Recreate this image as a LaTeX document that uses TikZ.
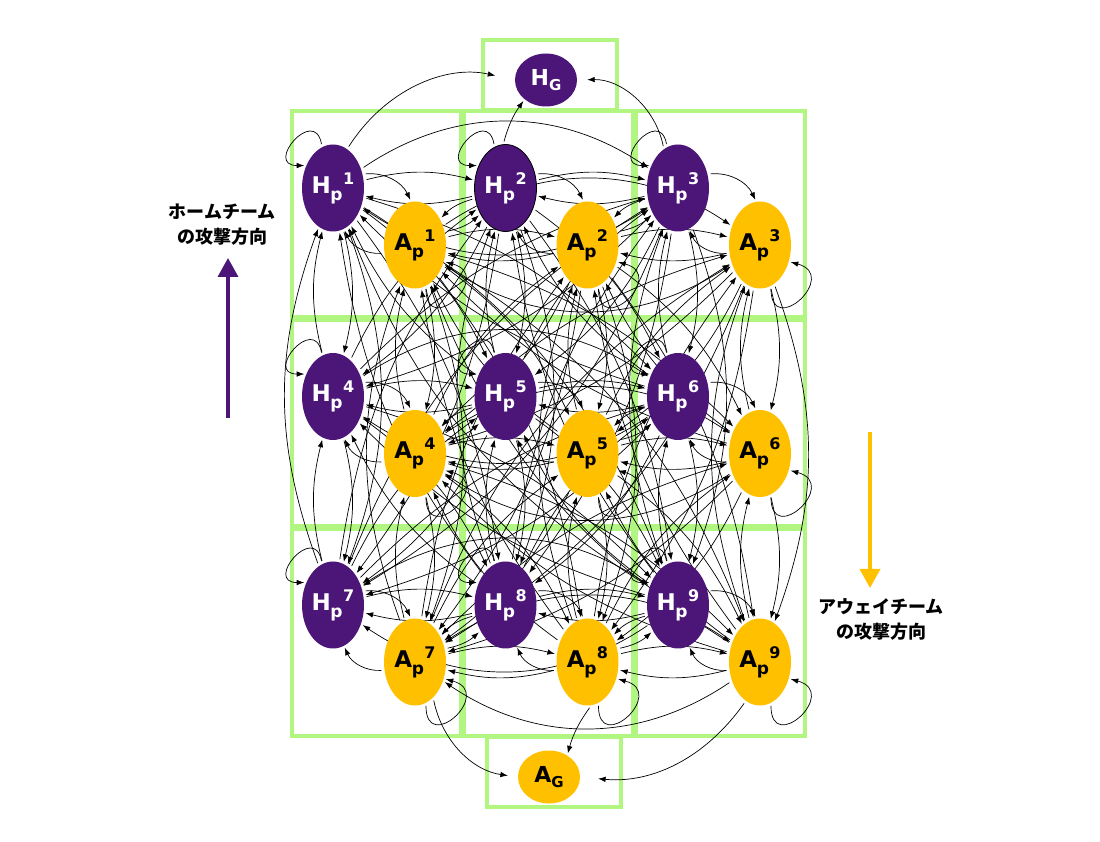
\documentclass[tikz,border=0pt]{standalone}
\usepackage{fontspec}
\setmainfont{DejaVu Sans}
\newfontfamily\jpfont{Noto Sans CJK JP}
\usetikzlibrary{shapes.geometric,arrows.meta}
\definecolor{hpur}{RGB}{76,21,120}
\definecolor{aora}{RGB}{255,192,0}
\definecolor{zgreen}{RGB}{176,246,128}
\pgfdeclarelayer{bg}
\pgfdeclarelayer{edges}
\pgfsetlayers{bg,edges,main}
\newcommand{\PLab}[2]{#1\kern-0.5pt\raisebox{-7pt}{\fontsize{17}{17}\selectfont p}\kern0.5pt\raisebox{9pt}{\fontsize{16}{16}\selectfont #2}}
\newcommand{\GLab}[1]{#1\raisebox{-5pt}{\fontsize{15}{15}\selectfont G}}
\begin{document}
\begin{tikzpicture}[x=1pt,y=1pt,
 hnode/.style={ellipse, fill=hpur, minimum width=62pt, minimum height=87pt, inner sep=0pt, text=white, font=\bfseries\fontsize{23}{23}\selectfont},
 anode/.style={hnode, fill=aora, text=black},
 hgoal/.style={ellipse, fill=hpur, text=white, minimum width=62pt, minimum height=53pt, inner sep=0pt, font=\bfseries\fontsize{22}{22}\selectfont},
 agoal/.style={hgoal, fill=aora, text=black},
 arr/.style={-{Latex[length=7.5pt,width=5.5pt]}, line width=0.7pt, shorten >=2pt, shorten <=3pt},
 zonebox/.style={draw=zgreen, line width=4pt},
 jplab/.style={font=\jpfont\bfseries\fontsize{18}{25}\selectfont, align=center}]
\useasboundingbox (0,0) rectangle (1100,841);
% nodes
\foreach \i in {1,...,9} {
  \pgfmathsetmacro\cx{333+172.5*mod(\i-1,3)}
  \pgfmathsetmacro\cy{653-208.5*int((\i-1)/3)}
  \node[hnode] (H\i) at (\cx,\cy) {\PLab{H}{\i}};
  \node[anode] (A\i) at (\cx+82,\cy-57) {\PLab{A}{\i}};
}
\draw[black, line width=0.8pt] (H2.center) ellipse (31pt and 43.5pt);
\node[hgoal] (HG) at (546,761) {\GLab{H}};
\node[agoal] (AG) at (549,64) {\GLab{A}};
% zone boxes
\begin{pgfonlayer}{bg}
\foreach \c in {0,1,2} {
  \foreach \r in {0,1,2} {
    \pgfmathsetmacro\xa{290+172*\c+1.5}
    \pgfmathsetmacro\xb{290+172*(\c+1)-1.5}
    \pgfmathsetmacro\ya{731-209*\r-1.5}
    \pgfmathsetmacro\yb{731-209*(\r+1)+1.5}
    \draw[zonebox] (\xa,\ya) rectangle (\xb,\yb);
  }
}
\draw[zonebox] (483,731) rectangle (617,801);
\draw[zonebox] (487,104) rectangle (621,34);
\end{pgfonlayer}
% edges
\begin{pgfonlayer}{edges}
\foreach \i in {1,...,9} {
  \foreach \j in {1,...,9} {
    \ifnum\i=\j\relax\else
      \pgfmathtruncatemacro\ri{int((\i-1)/3)}
      \pgfmathtruncatemacro\rj{int((\j-1)/3)}
      \pgfmathtruncatemacro\ci{mod(\i-1,3)}
      \pgfmathtruncatemacro\cj{mod(\j-1,3)}
      \pgfmathtruncatemacro\bb{(\ri==\rj && abs(\ci-\cj)==2) ? 34 : ((\ci==\cj && abs(\ri-\rj)==2) ? 20 : ((abs(\ci-\cj)==2 && abs(\ri-\rj)==2) ? 18 : 14))}
      \draw[arr] (H\i) to[bend left=\bb] (H\j);
      \draw[arr] (A\i) to[bend left=\bb] (A\j);
    \fi
  }
  \draw[arr] (H\i.25) to[bend left=35] (A\i.95);
  \draw[arr] (A\i.195) to[bend left=35] (H\i.285);
  \draw[arr] (H\i.105) to[out=100,in=180,looseness=4.5] (H\i.140);
  \draw[arr] (A\i.285) to[out=270,in=-15,looseness=4.5] (A\i.330);
}
\foreach \i/\j in {1/2,2/3,4/5,5/6,7/8,8/9} {
  \draw[arr] (H\j.199) to[bend right=15] (A\i.46);
  \draw[arr] (A\i.24) to[bend right=15] (H\j.226);
}
\draw[arr, shorten >=20pt] (H1.70) to[bend left=35] (HG.west);
\draw[arr] (H2.93) to[bend left=10] (HG.222);
\draw[arr, shorten >=10pt] (H3.110) to[bend right=40] (HG.east);
\draw[arr, shorten >=10pt] (A7.297) to[bend right=35] (AG.west);
\draw[arr] (A8.275) to[bend right=10] (AG.50);
\draw[arr, shorten >=18pt] (A9.250) to[bend left=30] (AG.east);
\end{pgfonlayer}
% legend
\coordinate (hs) at (228,423);
\coordinate (he) at (228,583);
\draw[hpur, line width=3.5pt, -{Triangle[length=19pt,width=20pt]}] (hs) -- (he);
\node[jplab] (ht) at (222,616.5) {ホームチーム\\の攻撃方向};
\coordinate (as) at (870,409);
\coordinate (ae) at (870,253);
\draw[aora, line width=3.5pt, -{Triangle[length=19pt,width=20pt]}] (as) -- (ae);
\node[jplab] (at) at (881,221.5) {アウェイチーム\\の攻撃方向};
\end{tikzpicture}
\end{document}
